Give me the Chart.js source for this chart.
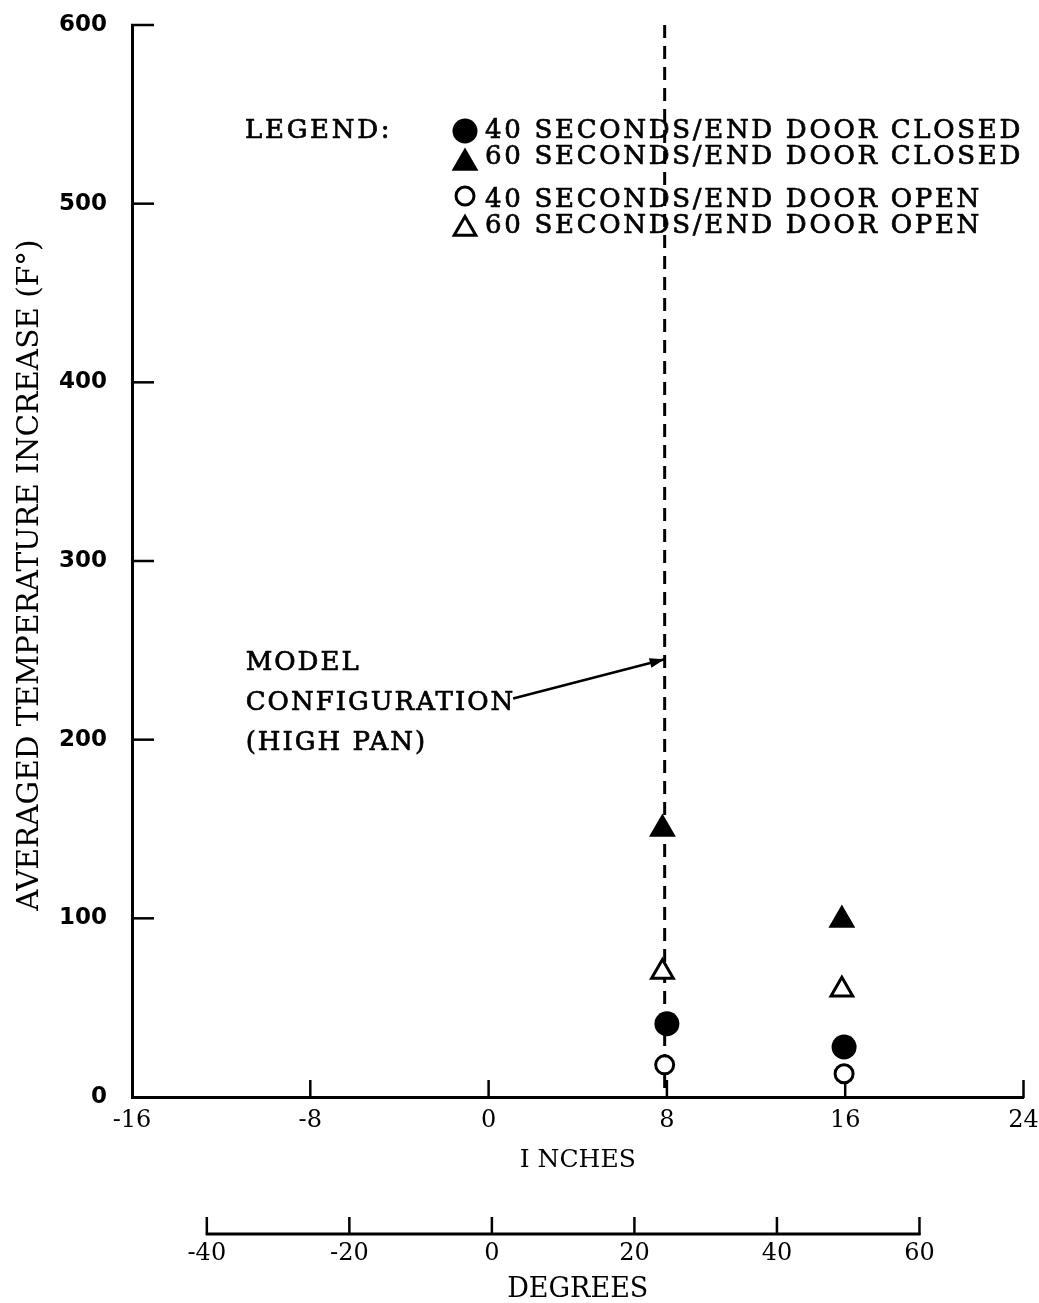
<!DOCTYPE html>
<html>
<head>
<meta charset="utf-8">
<script src="https://cdn.jsdelivr.net/npm/chart.js@4.4.1/dist/chart.umd.min.js"></script>
<style>
  html, body { margin: 0; padding: 0; background: #fff; }
  #wrap { width: 1039px; height: 1303px; position: relative; }
</style>
</head>
<body>
<div id="wrap"><canvas id="chart"></canvas></div>
<script>
// axis ticks
const inchTicks = [-16, -8, 0, 8, 16, 24];
const degreeTicks = [-40, -20, 0, 20, 40, 60];
const tempTicks = [0, 100, 200, 300, 400, 500, 600];

// degrees scale lined up under the inches scale (0 deg = 0 in)
const degreeMin = -50.5;
const degreeMax = 74.6;

const seriesNames = [
  '40 SECONDS/END DOOR CLOSED',
  '60 SECONDS/END DOOR CLOSED',
  '40 SECONDS/END DOOR OPEN',
  '60 SECONDS/END DOOR OPEN'
];

// readings (x in inches, y in deg F)
const closed40X = [8.0, 15.95];
const closed40Y = [41, 28];
const closed60X = [7.8, 15.85];
const closed60Y = [150, 99];
const open40X = [7.9, 15.95];
const open40Y = [18, 13];
const open60X = [7.8, 15.85];
const open60Y = [70, 60];

// model configuration (high pan) line
const modelX = 7.9;
const modelY = [600, 0];
const arrowFrom = { x: 1.1, y: 223 };
const arrowTo = { x: 7.9, y: 245 };

const black = '#000';
const serif = "'DejaVu Serif', serif";

const toPoints = (xs, ys) => xs.map((x, i) => ({ x, y: ys[i] }));

function line(ctx, x1, y1, x2, y2) {
  ctx.beginPath();
  ctx.moveTo(x1, y1);
  ctx.lineTo(x2, y2);
  ctx.stroke();
}

function text(ctx, str, x, y) {
  ctx.fillText(str, x, y);
  ctx.strokeText(str, x, y);
}

// ticks on this old plot point inwards, and the degrees axis only spans -40..60
const paperAxes = {
  id: 'paperAxes',
  beforeDatasetsDraw(chart) {
    const { ctx } = chart;
    const { x, y, x2 } = chart.scales;
    ctx.save();
    ctx.strokeStyle = black;
    ctx.lineWidth = 2.5;
    tempTicks.forEach(v => {
      if (v === 0) return;
      const py = y.getPixelForValue(v);
      line(ctx, y.right - 1, py, y.right + 22, py);
    });
    inchTicks.forEach(v => {
      if (v === inchTicks[0]) return;
      const px = x.getPixelForValue(v);
      line(ctx, px, x.top + 1, px, x.top - 17);
    });
    const base = x2.top + 34;
    ctx.lineWidth = 3;
    line(ctx, x2.getPixelForValue(degreeTicks[0]) - 1, base,
      x2.getPixelForValue(degreeTicks[degreeTicks.length - 1]) + 1, base);
    ctx.lineWidth = 2.5;
    degreeTicks.forEach(v => {
      const px = x2.getPixelForValue(v);
      line(ctx, px, base + 1, px, base - 17);
    });
    ctx.restore();
  },
  afterDraw(chart) {
    const { ctx, chartArea } = chart;
    const { x, y } = chart.scales;
    ctx.save();
    ctx.fillStyle = black;
    ctx.strokeStyle = black;
    ctx.lineWidth = 0.7;
    ctx.font = '26px ' + serif;
    ctx.letterSpacing = '2.7px';
    ctx.textBaseline = 'middle';
    ctx.textAlign = 'left';

    // legend
    const lx = chartArea.left + 113;
    text(ctx, 'LEGEND:', lx, chartArea.top + 106);
    const rowY = [131, 157, 200, 226];
    const markY = [131, 163, 196, 229];
    seriesNames.forEach((name, i) => {
      const ds = chart.data.datasets[i];
      ctx.fillStyle = black;
      text(ctx, name, 485, rowY[i]);
      ctx.save();
      ctx.fillStyle = ds.backgroundColor;
      ctx.strokeStyle = ds.borderColor;
      ctx.lineWidth = ds.borderWidth;
      Chart.helpers.drawPoint(ctx, {
        pointStyle: ds.pointStyle, radius: ds.pointRadius,
        borderWidth: ds.borderWidth, rotation: 0
      }, 465, markY[i]);
      ctx.restore();
    });

    // model configuration note
    ctx.letterSpacing = '2px';
    const tx = x.getPixelForValue(-10.9);
    const ty = y.getPixelForValue(243);
    ['MODEL', 'CONFIGURATION', '(HIGH PAN)'].forEach((t, i) => {
      text(ctx, t, tx, ty + i * 40);
    });
    const ax1 = x.getPixelForValue(arrowFrom.x), ay1 = y.getPixelForValue(arrowFrom.y);
    const ax2 = x.getPixelForValue(arrowTo.x), ay2 = y.getPixelForValue(arrowTo.y);
    ctx.lineWidth = 2.5;
    line(ctx, ax1, ay1, ax2, ay2);
    const ang = Math.atan2(ay2 - ay1, ax2 - ax1);
    ctx.beginPath();
    ctx.moveTo(ax2, ay2);
    ctx.lineTo(ax2 - 15 * Math.cos(ang) + 5 * Math.sin(ang), ay2 - 15 * Math.sin(ang) - 5 * Math.cos(ang));
    ctx.lineTo(ax2 - 15 * Math.cos(ang) - 5 * Math.sin(ang), ay2 - 15 * Math.sin(ang) + 5 * Math.cos(ang));
    ctx.closePath();
    ctx.fill();
    ctx.restore();
  }
};

const ctx = document.getElementById('chart');
new Chart(ctx, {
  type: 'scatter',
  data: {
    datasets: [
      { label: seriesNames[0], data: toPoints(closed40X, closed40Y), pointStyle: 'circle', pointRadius: 12.5,
        backgroundColor: black, borderColor: black, borderWidth: 0, order: 1 },
      { label: seriesNames[1], data: toPoints(closed60X, closed60Y), pointStyle: 'triangle', pointRadius: 15.5,
        backgroundColor: black, borderColor: black, borderWidth: 0, order: 1 },
      { label: seriesNames[2], data: toPoints(open40X, open40Y), pointStyle: 'circle', pointRadius: 9,
        backgroundColor: '#fff', borderColor: black, borderWidth: 3, order: 1 },
      { label: seriesNames[3], data: toPoints(open60X, open60Y), pointStyle: 'triangle', pointRadius: 12.5,
        backgroundColor: '#fff', borderColor: black, borderWidth: 3, order: 1 },
      { type: 'line', label: 'MODEL CONFIGURATION', data: modelY.map(v => ({ x: modelX, y: v })),
        borderColor: black, borderWidth: 3, borderDash: [13, 8], pointRadius: 0, order: 10 }
    ]
  },
  options: {
    responsive: true,
    maintainAspectRatio: false,
    animation: false,
    events: [],
    layout: { padding: { top: 25, right: 15, left: 0, bottom: 0 } },
    plugins: {
      legend: { display: false },
      tooltip: { enabled: false }
    },
    scales: {
      x: {
        type: 'linear', position: 'bottom', weight: 0,
        min: -16, max: 24,
        afterBuildTicks: s => { s.ticks = inchTicks.map(v => ({ value: v })); },
        afterFit: s => { s.height = 103; s.paddingLeft = 0; s.paddingRight = 0; },
        grid: { display: false, drawTicks: false },
        border: { display: true, color: black, width: 3 },
        ticks: { color: black, font: { family: serif, size: 24 }, padding: 9, maxRotation: 0, autoSkip: false },
        title: { display: true, text: 'I NCHES', color: black, font: { family: serif, size: 25 }, padding: { top: 0, bottom: 25 } }
      },
      x2: {
        type: 'linear', position: 'bottom', weight: 1,
        min: degreeMin, max: degreeMax,
        afterBuildTicks: s => { s.ticks = degreeTicks.map(v => ({ value: v })); },
        afterFit: s => { s.height = 103; s.paddingLeft = 0; s.paddingRight = 0; },
        grid: { display: false, drawTicks: false },
        border: { display: false },
        ticks: { color: black, font: { family: serif, size: 24 }, padding: 39, maxRotation: 0, autoSkip: false },
        title: { display: true, text: 'DEGREES', color: black, font: { family: serif, size: 27 }, padding: { top: 0, bottom: -3 } }
      },
      y: {
        type: 'linear', position: 'left',
        min: 0, max: 600,
        afterBuildTicks: s => { s.ticks = tempTicks.map(v => ({ value: v })); },
        afterFit: s => { s.width = 132; s.paddingTop = 0; s.paddingBottom = 0; },
        grid: { display: false, drawTicks: false },
        border: { display: true, color: black, width: 3 },
        ticks: { color: black, font: { family: "'DejaVu Sans', sans-serif", size: 23, weight: 'bold' }, padding: 25 },
        // trailing spaces nudge the label down a little, as on the original
        title: { display: true, text: 'AVERAGED TEMPERATURE INCREASE (F°)   ', color: black, font: { family: serif, size: 29.5 }, padding: { top: 13, bottom: 0 } }
      }
    }
  },
  plugins: [paperAxes]
});
</script>
</body>
</html>
